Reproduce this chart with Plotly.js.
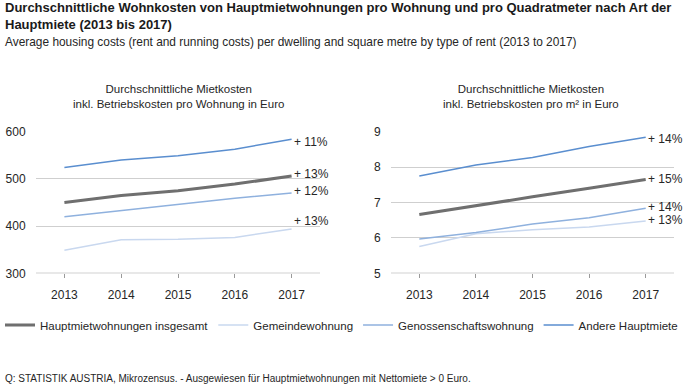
<!DOCTYPE html>
<html>
<head>
<meta charset="utf-8">
<script src="https://cdn.plot.ly/plotly-3.0.1.min.js"></script>
<style>html,body{margin:0;padding:0;background:#fff;}#chart{width:692px;height:389px;}</style>
</head>
<body>
<div id="chart"></div>
<script>
const years = [2013, 2014, 2015, 2016, 2017];
const seriesNames = ["Hauptmietwohnungen insgesamt", "Gemeindewohnung", "Genossenschaftswohnung", "Andere Hauptmiete"];
// per dwelling (Euro)
const perDwellingTotal = [450, 465, 475, 489, 506];
const perDwellingGemeinde = [349, 371, 372, 376, 394];
const perDwellingGenoss = [420, 433, 445, 459, 470];
const perDwellingAndere = [524, 540, 549, 563, 584];
// per m² (Euro)
const perSqmTotal = [6.66, 6.92, 7.16, 7.40, 7.65];
const perSqmGemeinde = [5.76, 6.12, 6.23, 6.31, 6.48];
const perSqmGenoss = [5.97, 6.15, 6.39, 6.57, 6.84];
const perSqmAndere = [7.75, 8.06, 8.27, 8.58, 8.84];
// change labels 2013-2017
const dwellingChange = ["+ 13%", "+ 13%", "+ 12%", "+ 11%"];
const sqmChange = ["+ 15%", "+ 13%", "+ 14%", "+ 14%"];

const colors = ["#6f6f6f", "#c9d8ef", "#8fb1de", "#5a8ecf"];
const widths = [3, 1.5, 1.5, 1.5];

const leftData = [perDwellingTotal, perDwellingGemeinde, perDwellingGenoss, perDwellingAndere];
const rightData = [perSqmTotal, perSqmGemeinde, perSqmGenoss, perSqmAndere];
const order = [1, 2, 3, 0]; // draw total on top

const traces = [];
order.forEach(i => {
  traces.push({x: years, y: leftData[i], type: "scatter", mode: "lines", name: seriesNames[i],
    line: {color: colors[i], width: widths[i]}, xaxis: "x", yaxis: "y", showlegend: false, legendrank: i});
});
order.forEach(i => {
  traces.push({x: years, y: rightData[i], type: "scatter", mode: "lines", name: seriesNames[i],
    line: {color: colors[i], width: widths[i]}, xaxis: "x2", yaxis: "y2", showlegend: true, legendrank: i});
});

const font = "Arial, 'Liberation Sans', sans-serif";
const txt = "#262626";
const lshift = [2, 8, 2, -3];
const rshift = [0, 1, 1, -2];
const annotations = [
  {xref: "paper", yref: "paper", x: 0.004, y: 1.0, yshift: 2, xanchor: "left", yanchor: "top", align: "left",
   text: "<b>Durchschnittliche Wohnkosten von Hauptmietwohnungen pro Wohnung und pro Quadratmeter nach Art der<br>Hauptmiete (2013 bis 2017)</b>",
   showarrow: false, font: {family: font, size: 13, color: "#1a1a1a"}},
  {xref: "paper", yref: "paper", x: 0.004, y: 1 - 41.7/389, xanchor: "left", yanchor: "middle", align: "left",
   text: "Average housing costs (rent and running costs) per dwelling and square metre by type of rent (2013 to 2017)",
   showarrow: false, font: {family: font, size: 11.9, color: txt}},
  {xref: "paper", yref: "paper", x: 178/692, y: 1 - 96.5/389, xanchor: "center", yanchor: "middle", align: "center",
   text: "Durchschnittliche Mietkosten<br>inkl. Betriebskosten pro Wohnung in Euro",
   showarrow: false, font: {family: font, size: 11.5, color: txt}},
  {xref: "paper", yref: "paper", x: 531/692, y: 1 - 96.5/389, xanchor: "center", yanchor: "middle", align: "center",
   text: "Durchschnittliche Mietkosten<br>inkl. Betriebskosten pro m² in Euro",
   showarrow: false, font: {family: font, size: 11.5, color: txt}},
  {xref: "paper", yref: "paper", x: 0.004, y: 1 - 378.5/389, xanchor: "left", yanchor: "middle", align: "left",
   text: "Q: STATISTIK AUSTRIA, Mikrozensus. - Ausgewiesen für Hauptmietwohnungen mit Nettomiete > 0 Euro.",
   showarrow: false, font: {family: font, size: 10, color: txt}}
];
seriesNames.forEach((n, i) => {
  annotations.push({xref: "x", yref: "y", x: years[4], y: leftData[i][4], xanchor: "left", yanchor: "middle",
    xshift: 0, yshift: lshift[i], text: dwellingChange[i], showarrow: false, font: {family: font, size: 12, color: txt}});
  annotations.push({xref: "x2", yref: "y2", x: years[4], y: rightData[i][4], xanchor: "left", yanchor: "middle",
    xshift: 0, yshift: rshift[i], text: sqmChange[i], showarrow: false, font: {family: font, size: 12, color: txt}});
});

const xbase = {range: [2012.5, 2017.5], tickvals: years, ticktext: years.map(String), showgrid: false, zeroline: false,
  showline: false, ticks: "outside", ticklen: 4, tickcolor: "#9a9a9a", tickwidth: 1, ticklabelstandoff: 6,
  tickfont: {family: font, size: 12, color: txt}, fixedrange: true, anchor: "y"};
const ybase = {showgrid: true, gridcolor: "#cfcfcf", gridwidth: 1, zeroline: false, showline: false, ticks: "outside",
  ticklen: 7, tickcolor: "rgba(0,0,0,0)", tickfont: {family: font, size: 12, color: txt}, fixedrange: true};

const yDom = [1 - 273.3/389, 1 - 131.7/389];
const layout = {
  width: 692, height: 389, margin: {l: 0, r: 0, t: 0, b: 0}, paper_bgcolor: "#fff", plot_bgcolor: "#fff",
  showlegend: true,
  legend: {orientation: "h", x: 0, xanchor: "left", y: 1 - 325/389, yanchor: "middle", font: {family: font, size: 11.5, color: txt},
    traceorder: "normal", itemwidth: 30, bgcolor: "rgba(0,0,0,0)"},
  xaxis: Object.assign({}, xbase, {domain: [36/692, 320/692], anchor: "y"}),
  xaxis2: Object.assign({}, xbase, {domain: [391/692, 674/692], anchor: "y2"}),
  yaxis: Object.assign({}, ybase, {domain: yDom, range: [300, 600], tickvals: [300, 400, 500, 600], anchor: "x"}),
  yaxis2: Object.assign({}, ybase, {domain: yDom, range: [5, 9], tickvals: [5, 6, 7, 8, 9], anchor: "x2"}),
  annotations: annotations,
  shapes: [
    {type: "line", xref: "x domain", yref: "y", x0: 0, x1: 1, y0: 300, y1: 300, line: {color: "#8c8c8c", width: 1}},
    {type: "line", xref: "x2 domain", yref: "y2", x0: 0, x1: 1, y0: 5, y1: 5, line: {color: "#8c8c8c", width: 1}}
  ]
};
Plotly.newPlot("chart", traces, layout, {staticPlot: true, displayModeBar: false});
</script>
</body>
</html>
